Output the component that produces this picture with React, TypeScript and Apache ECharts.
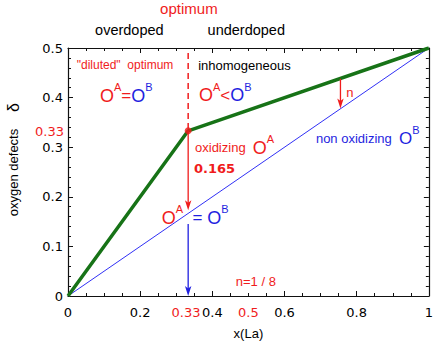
import React, { useEffect, useRef } from 'react';
import * as echarts from 'echarts';

// ---- data ----
const greenLine: number[][] = [[0, 0], [0.333, 0.333], [1, 0.5]];
const blueLine: number[][] = [[0, 0], [1, 0.5]];
const optimumPoint: number[][] = [[0.333, 0.333]];
const dashedLine: number[][] = [[0.333, 0.49], [0.333, 0.333]];
// arrows: [x, yStart, yEnd, colorIndex]
const arrows: number[][] = [
  [0.333, 0.333, 0.173, 0],
  [0.333, 0.145, 0.0, 1],
  [0.755, 0.438, 0.378, 0],
];
const xTickLabels = ['0', '0.2', '0.4', '0.6', '0.8', '1'];

const RED = '#f01c1c';
const BLUE = '#1f1fe0';
const GREEN = '#177317';
const FONT = '"Liberation Sans", Arial, sans-serif';
const NUMFONT = '"DejaVu Sans", sans-serif';
const arrowColors = [RED, BLUE];

const tok = (fill: string, fontSize: number, sup = false) => ({
  fill,
  fontSize,
  fontFamily: FONT,
  lineHeight: sup ? 11 : 28,
  verticalAlign: sup ? 'top' : 'middle',
});
const rich = {
  oR: tok(RED, 18),
  sR: tok(RED, 11, true),
  eR: tok(RED, 17),
  oB: tok(BLUE, 18),
  sB: tok(BLUE, 11, true),
  eB: tok(BLUE, 17),
  tR: tok(RED, 13),
  tB: tok(BLUE, 13),
  oB2: tok(BLUE, 17),
};

type Ann = {
  text: string;
  x: number;
  y: number;
  color?: string;
  size?: number;
  align?: string;
  weight?: string;
  font?: string;
  rich?: boolean;
  rot?: number;
};

const annotations: Ann[] = [
  { text: 'optimum', x: 0.335, y: 0.58, color: RED, size: 15, align: 'center' },
  { text: 'overdoped', x: 0.17, y: 0.537, color: '#000', size: 14.5, align: 'center' },
  { text: 'underdoped', x: 0.494, y: 0.537, color: '#000', size: 14.5, align: 'center' },
  { text: '"diluted"  optimum', x: 0.158, y: 0.465, color: RED, size: 12, align: 'center' },
  { text: 'inhomogeneous', x: 0.489, y: 0.465, color: '#000', size: 13, align: 'center' },
  { text: '{oR|O}{sR|A}{eR|=}{oB|O}{sB|B}', x: 0.0886, y: 0.404, rich: true, align: 'left' },
  { text: '{oR|O}{sR|A}{eR|<}{oB|O}{sB|B}', x: 0.363, y: 0.405, rich: true, align: 'left' },
  { text: 'n', x: 0.781, y: 0.411, color: RED, size: 13, align: 'center' },
  { text: '{tR|oxidizing  }{oR|O}{sR|A}', x: 0.352, y: 0.299, rich: true, align: 'left' },
  { text: '0.165', x: 0.349, y: 0.258, color: RED, size: 13, align: 'left', weight: 'bold', font: NUMFONT },
  { text: '{tB|non oxidizing  }{oB2|O}{sB|B}', x: 0.687, y: 0.317, rich: true, align: 'left' },
  { text: '{oR|O}{sR|A}{eB|  = }{oB|O}{sB|B}', x: 0.26, y: 0.158, rich: true, align: 'left' },
  { text: 'n=1 / 8', x: 0.465, y: 0.029, color: RED, size: 13, align: 'left' },
  { text: '0.33', x: -0.011, y: 0.331, color: RED, size: 13, align: 'right', font: NUMFONT },
  { text: '0.33', x: 0.327, y: -0.034, color: RED, size: 13, align: 'center', font: NUMFONT },
  { text: '0.5', x: 0.5, y: -0.034, color: RED, size: 13, align: 'center', font: NUMFONT },
  { text: 'oxygen defects', x: -0.152, y: 0.249, color: '#000', size: 13, align: 'center', rot: Math.PI / 2 },
  { text: 'δ', x: -0.152, y: 0.38, color: '#000', size: 16, align: 'center', rot: Math.PI / 2 },
];

const axisCommon = {
  type: 'value',
  axisLine: { onZero: false, lineStyle: { color: '#111', width: 1.2 } },
  axisTick: { inside: true, length: 5, lineStyle: { color: '#111' } },
  splitLine: { show: false },
};

export default function App() {
  const ref = useRef<HTMLDivElement>(null);
  useEffect(() => {
    if (!ref.current) return;
    const chart = echarts.init(ref.current, undefined, { renderer: 'svg' });
    const option: any = {
      animation: false,
      grid: { left: 68, right: 7, top: 48, bottom: 46 },
      xAxis: [
        {
          ...axisCommon,
          min: 0,
          max: 1,
          interval: 0.2,
          position: 'bottom',
          minorTick: { show: true, splitNumber: 4, length: 3, lineStyle: { color: '#111' } },
          axisLabel: {
            margin: 10,
            fontSize: 13,
            fontFamily: NUMFONT,
            color: '#000',
            formatter: (v: number) => xTickLabels[Math.round(v / 0.2)] ?? String(v),
          },
          name: 'x(La)',
          nameLocation: 'middle',
          nameGap: 31,
          nameTextStyle: { fontSize: 13, fontFamily: FONT, color: '#000' },
        },
        {
          ...axisCommon,
          min: 0,
          max: 1,
          interval: 0.2,
          position: 'top',
          minorTick: { show: true, splitNumber: 4, length: 3, lineStyle: { color: '#111' } },
          axisLabel: { show: false },
        },
      ],
      yAxis: [
        {
          ...axisCommon,
          min: 0,
          max: 0.5,
          interval: 0.1,
          position: 'left',
          minorTick: { show: true, splitNumber: 5, length: 3, lineStyle: { color: '#111' } },
          axisLabel: {
            margin: 5,
            fontSize: 13,
            fontFamily: NUMFONT,
            color: '#000',
            formatter: (v: number) => (v === 0 ? '0' : v.toFixed(1)),
          },
        },
        {
          ...axisCommon,
          min: 0,
          max: 0.5,
          interval: 0.1,
          position: 'right',
          minorTick: { show: true, splitNumber: 5, length: 3, lineStyle: { color: '#111' } },
          axisLabel: { show: false },
        },
      ],
      series: [
        {
          type: 'line',
          data: blueLine,
          showSymbol: false,
          lineStyle: { color: '#3030f5', width: 1 },
          z: 2,
        },
        {
          type: 'line',
          data: greenLine,
          showSymbol: false,
          lineStyle: { color: GREEN, width: 3.5 },
          z: 3,
        },
        {
          type: 'line',
          data: dashedLine,
          showSymbol: false,
          lineStyle: { color: RED, width: 1.5, type: [6, 4] },
          z: 3,
        },
        {
          type: 'custom',
          data: arrows,
          z: 4,
          renderItem: (_p: any, api: any) => {
            const x = api.value(0);
            const p1 = api.coord([x, api.value(1)]);
            const p2 = api.coord([x, api.value(2)]);
            const c = arrowColors[api.value(3)];
            const dir = p2[1] > p1[1] ? 1 : -1;
            const hl = 10;
            const hw = 3.2;
            return {
              type: 'group',
              children: [
                {
                  type: 'line',
                  shape: { x1: p1[0], y1: p1[1], x2: p2[0], y2: p2[1] - dir * hl * 0.6 },
                  style: { stroke: c, lineWidth: 1.3 },
                },
                {
                  type: 'polygon',
                  shape: {
                    points: [
                      [p2[0], p2[1]],
                      [p2[0] - hw, p2[1] - dir * hl],
                      [p2[0], p2[1] - dir * hl * 0.75],
                      [p2[0] + hw, p2[1] - dir * hl],
                    ],
                  },
                  style: { fill: c },
                },
              ],
            };
          },
        },
        {
          type: 'scatter',
          data: optimumPoint,
          symbolSize: 7,
          itemStyle: { color: RED },
          z: 5,
        },
      ],
    };
    chart.setOption(option);

    const graphic = annotations.map((a) => {
      const p = chart.convertToPixel({ seriesIndex: 0 }, [a.x, a.y]) as number[];
      const style: any = {
        text: a.text,
        align: a.align || 'left',
        verticalAlign: 'middle',
      };
      if (a.rich) {
        style.rich = rich;
      } else {
        style.fill = a.color;
        style.fontSize = a.size;
        style.fontFamily = a.font || FONT;
        style.fontWeight = a.weight || 'normal';
      }
      return {
        type: 'text',
        x: p[0],
        y: p[1],
        rotation: a.rot || 0,
        z: 10,
        style,
      };
    });
    chart.setOption({ graphic });

    return () => chart.dispose();
  }, []);
  return <div ref={ref} style={{ width: 436, height: 345, position: 'absolute', left: 0, top: 0 }} />;
}
